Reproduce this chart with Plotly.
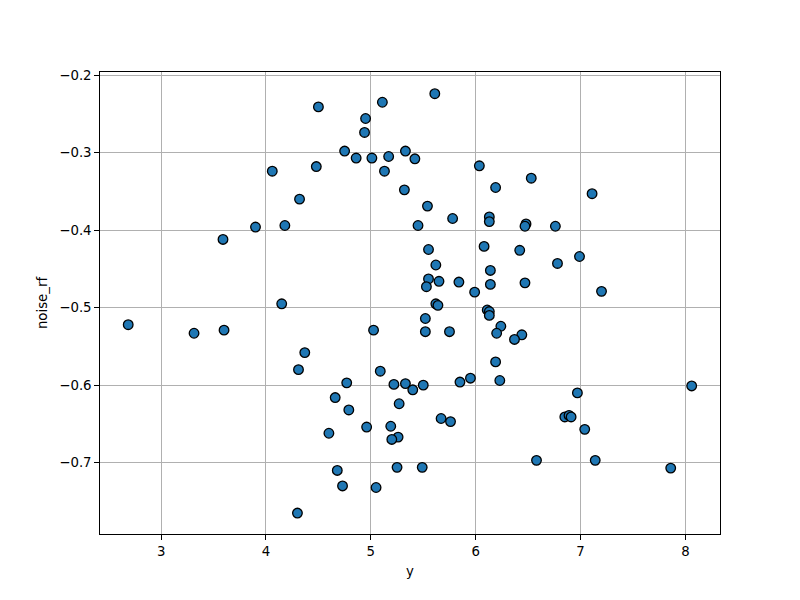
import plotly.graph_objects as go

x_vals = [2.686, 3.314, 3.60, 4.15, 5.026, 4.37, 4.31, 5.09, 4.77, 5.22,
          5.33, 5.40, 4.66, 4.79, 5.27, 4.96, 5.19, 5.26, 5.20, 4.60,
          4.68, 5.25, 4.73, 5.05, 4.30,
          4.50, 5.11, 4.95, 4.94, 4.75, 4.86, 5.01, 5.17, 5.33, 5.13,
          5.32, 4.06, 4.48, 4.32, 3.90, 4.18, 3.59,
          5.61, 5.42, 6.035, 6.53, 6.19, 7.11, 5.54, 5.78, 6.13, 6.13,
          5.45, 6.48, 6.47, 6.76, 5.55, 6.08, 6.42, 6.99, 5.62, 6.78,
          6.14, 5.55, 5.65, 5.53, 5.84, 6.14, 6.47, 5.99, 7.20,
          5.62, 5.64, 6.11, 6.13, 6.13, 5.52, 6.24, 5.52, 5.75, 6.20,
          6.44, 6.37, 6.19, 5.50, 5.85, 5.95, 6.23, 6.97, 8.06, 5.67,
          5.76, 6.85, 6.89, 6.91, 7.04, 6.58, 7.14, 7.86, 5.49]

noise_rf = [-0.522, -0.533, -0.529, -0.495, -0.529, -0.558, -0.580, -0.582, -0.597, -0.599,
            -0.598, -0.606, -0.616, -0.632, -0.624, -0.654, -0.653, -0.667, -0.670, -0.662,
            -0.710, -0.706, -0.730, -0.732, -0.765,
            -0.241, -0.235, -0.256, -0.274, -0.298, -0.307, -0.307, -0.305, -0.298, -0.324,
            -0.348, -0.324, -0.318, -0.360, -0.396, -0.394, -0.412,
            -0.224, -0.308, -0.317, -0.333, -0.345, -0.353, -0.369, -0.385, -0.383, -0.389,
            -0.394, -0.392, -0.395, -0.395, -0.425, -0.421, -0.426, -0.434, -0.445, -0.443,
            -0.452, -0.463, -0.466, -0.473, -0.467, -0.470, -0.468, -0.480, -0.479,
            -0.495, -0.497, -0.503, -0.505, -0.510, -0.514, -0.524, -0.531, -0.531, -0.533,
            -0.535, -0.541, -0.570, -0.600, -0.596, -0.591, -0.594, -0.610, -0.601, -0.643,
            -0.647, -0.641, -0.639, -0.641, -0.657, -0.697, -0.697, -0.707, -0.706]

x_ticks = [3, 4, 5, 6, 7, 8]
y_ticks = [-0.2, -0.3, -0.4, -0.5, -0.6, -0.7]
y_tick_labels = ["\u22120.2", "\u22120.3", "\u22120.4", "\u22120.5", "\u22120.6", "\u22120.7"]

fig = go.Figure()
fig.add_trace(go.Scatter(
    x=x_vals, y=noise_rf, mode="markers",
    marker=dict(size=9.6, color="#1f77b4", line=dict(color="black", width=1.3)),
    showlegend=False,
))

axis_common = dict(
    showline=True, linecolor="black", linewidth=1.1, mirror=True,
    ticks="outside", ticklen=4.7, tickwidth=1.1, tickcolor="black",
    showgrid=True, gridcolor="#b0b0b0", gridwidth=1.1, zeroline=False,
    tickfont=dict(family="DejaVu Sans", size=13.3, color="black"),
)

fig.update_layout(
    width=800, height=600,
    margin=dict(l=92, r=88, t=64, b=74),
    plot_bgcolor="white", paper_bgcolor="white",
    font=dict(family="DejaVu Sans", size=13.3, color="black"),
    xaxis=dict(range=[2.417, 8.33], tickvals=x_ticks,
               title=dict(text="y", font=dict(family="DejaVu Sans", size=13.3), standoff=8),
               **axis_common),
    yaxis=dict(range=[-0.792, -0.196], tickvals=y_ticks, ticktext=y_tick_labels,
               title=dict(text="noise_rf", font=dict(family="DejaVu Sans", size=13.3), standoff=8),
               **axis_common),
)

fig.write_html("out.html")
